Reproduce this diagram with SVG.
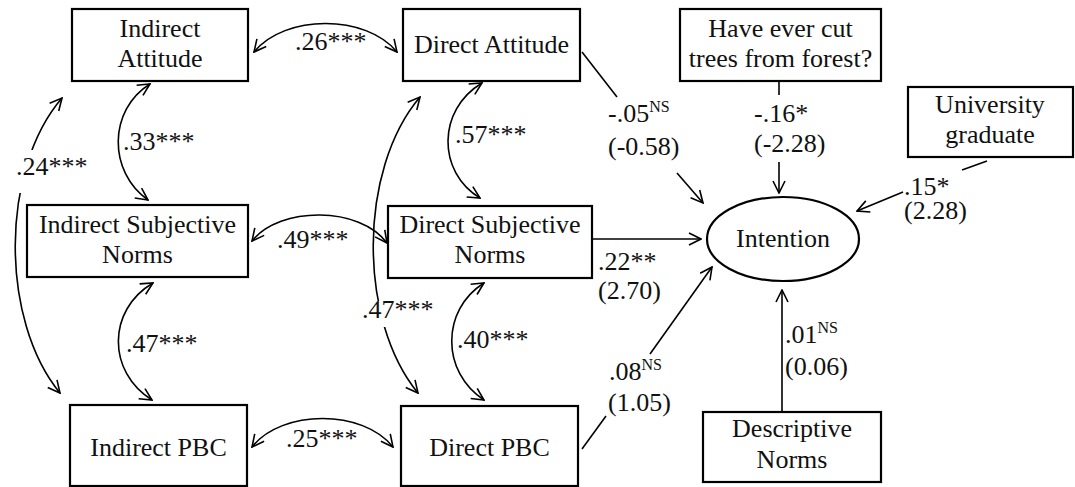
<svg xmlns="http://www.w3.org/2000/svg" width="1075" height="487" viewBox="0 0 1075 487">
<style>
.box{fill:#fff;stroke:#000;stroke-width:2.2}
.t{font-family:'Liberation Serif','Times New Roman','DejaVu Serif',serif;font-size:26px;fill:#111}
.c{text-anchor:middle}
.sup{font-size:16px}
.ln{fill:none;stroke:#000;stroke-width:1.6}
.mask{fill:#fff;stroke:none}
</style>
<defs>
<marker id="ah" viewBox="0 0 14 14" refX="13" refY="7" markerWidth="14" markerHeight="14" markerUnits="userSpaceOnUse" orient="auto-start-reverse">
<path d="M1,1 L13,7 L1,13" fill="none" stroke="#000" stroke-width="1.6"/>
</marker>
</defs>
<rect width="1075" height="487" fill="#fff"/>
<g id="connectors">
<path class="ln" d="M254,52 C285,14 366,14 397,52" marker-start="url(#ah)" marker-end="url(#ah)"/>
<path class="ln" d="M150,84 C108,110 108,172 148,200" marker-start="url(#ah)" marker-end="url(#ah)"/>
<path class="ln" d="M62,98 C0,170 0,320 60,393" marker-start="url(#ah)" marker-end="url(#ah)"/>
<path class="ln" d="M252,241 C280,206 360,206 387,243" marker-start="url(#ah)" marker-end="url(#ah)"/>
<path class="ln" d="M153,283 C107,310 107,372 152,400" marker-start="url(#ah)" marker-end="url(#ah)"/>
<path class="ln" d="M252,447 C282,409 363,409 393,447" marker-start="url(#ah)" marker-end="url(#ah)"/>
<path class="ln" d="M482,83 C437,110 437,172 480,198" marker-start="url(#ah)" marker-end="url(#ah)"/>
<path class="ln" d="M484,283 C441,310 441,372 484,400" marker-start="url(#ah)" marker-end="url(#ah)"/>
<path class="ln" d="M420,97 C358,170 358,320 418,393" marker-start="url(#ah)" marker-end="url(#ah)"/>
<line class="ln" x1="582" y1="52" x2="617" y2="97"/>
<line class="ln" x1="677" y1="173" x2="703" y2="203" marker-end="url(#ah)"/>
<line class="ln" x1="779" y1="82" x2="779" y2="95"/>
<line class="ln" x1="779" y1="162" x2="779" y2="193" marker-end="url(#ah)"/>
<line class="ln" x1="987" y1="161" x2="962" y2="170"/>
<line class="ln" x1="903" y1="192" x2="857" y2="211" marker-end="url(#ah)"/>
<line class="ln" x1="592" y1="239" x2="701" y2="239" marker-end="url(#ah)"/>
<line class="ln" x1="582" y1="449" x2="606" y2="416"/>
<line class="ln" x1="650" y1="354" x2="712" y2="267" marker-end="url(#ah)"/>
<line class="ln" x1="782" y1="412" x2="782" y2="290" marker-end="url(#ah)"/>
<rect class="mask" x="12" y="150" width="76" height="43"/>
<rect class="mask" x="356" y="301" width="78" height="26"/>
<g class="t">
<text x="295" y="50">.26***</text>
<text x="123" y="150">.33***</text>
<text x="16" y="175">.24***</text>
<text x="277" y="248">.49***</text>
<text x="126" y="352">.47***</text>
<text x="286" y="447">.25***</text>
<text x="455" y="143">.57***</text>
<text x="457" y="348">.40***</text>
<text x="362" y="318">.47***</text>
<text x="608" y="122">-.05<tspan class="sup" dy="-10">NS</tspan></text>
<text x="608" y="155">(-0.58)</text>
<text x="754" y="122">-.16*</text>
<text x="754" y="152">(-2.28)</text>
<text x="904" y="195">.15*</text>
<text x="904" y="219">(2.28)</text>
<text x="598" y="270">.22**</text>
<text x="598" y="299">(2.70)</text>
<text x="609" y="380">.08<tspan class="sup" dy="-10">NS</tspan></text>
<text x="608" y="411">(1.05)</text>
<text x="785" y="343">.01<tspan class="sup" dy="-10">NS</tspan></text>
<text x="785" y="375">(0.06)</text>
</g>
</g>
<g id="indirect-attitude">
<rect class="box" x="72" y="9" width="176" height="72"/>
<text class="t c" x="160" y="37">Indirect</text>
<text class="t c" x="160" y="67">Attitude</text>
</g>
<g id="direct-attitude">
<rect class="box" x="403" y="9" width="177" height="72"/>
<text class="t c" x="491.5" y="53">Direct Attitude</text>
</g>
<g id="cut-trees">
<rect class="box" x="680" y="9" width="201" height="72"/>
<text class="t c" x="780.5" y="37">Have ever cut</text>
<text class="t c" x="780.5" y="67">trees from forest?</text>
</g>
<g id="university">
<rect class="box" x="908" y="87" width="165" height="70"/>
<text class="t c" x="990" y="113">University</text>
<text class="t c" x="990" y="143">graduate</text>
</g>
<g id="intention">
<ellipse cx="783" cy="239" rx="76" ry="42" fill="#fff" stroke="#000" stroke-width="2.2"/>
<text class="t c" x="783" y="247">Intention</text>
</g>
<g id="indirect-subjective-norms">
<rect class="box" x="27" y="205" width="221" height="72"/>
<text class="t c" x="137.5" y="233">Indirect Subjective</text>
<text class="t c" x="137.5" y="263">Norms</text>
</g>
<g id="direct-subjective-norms">
<rect class="box" x="388" y="206" width="204" height="72"/>
<text class="t c" x="490" y="233">Direct Subjective</text>
<text class="t c" x="490" y="263">Norms</text>
</g>
<g id="indirect-pbc">
<rect class="box" x="70" y="405" width="177" height="81"/>
<text class="t c" x="158.5" y="456">Indirect PBC</text>
</g>
<g id="direct-pbc">
<rect class="box" x="401" y="406" width="177" height="80"/>
<text class="t c" x="489.5" y="456">Direct PBC</text>
</g>
<g id="descriptive-norms">
<rect class="box" x="703" y="412" width="178" height="70"/>
<text class="t c" x="792" y="437">Descriptive</text>
<text class="t c" x="792" y="468">Norms</text>
</g>
</svg>
